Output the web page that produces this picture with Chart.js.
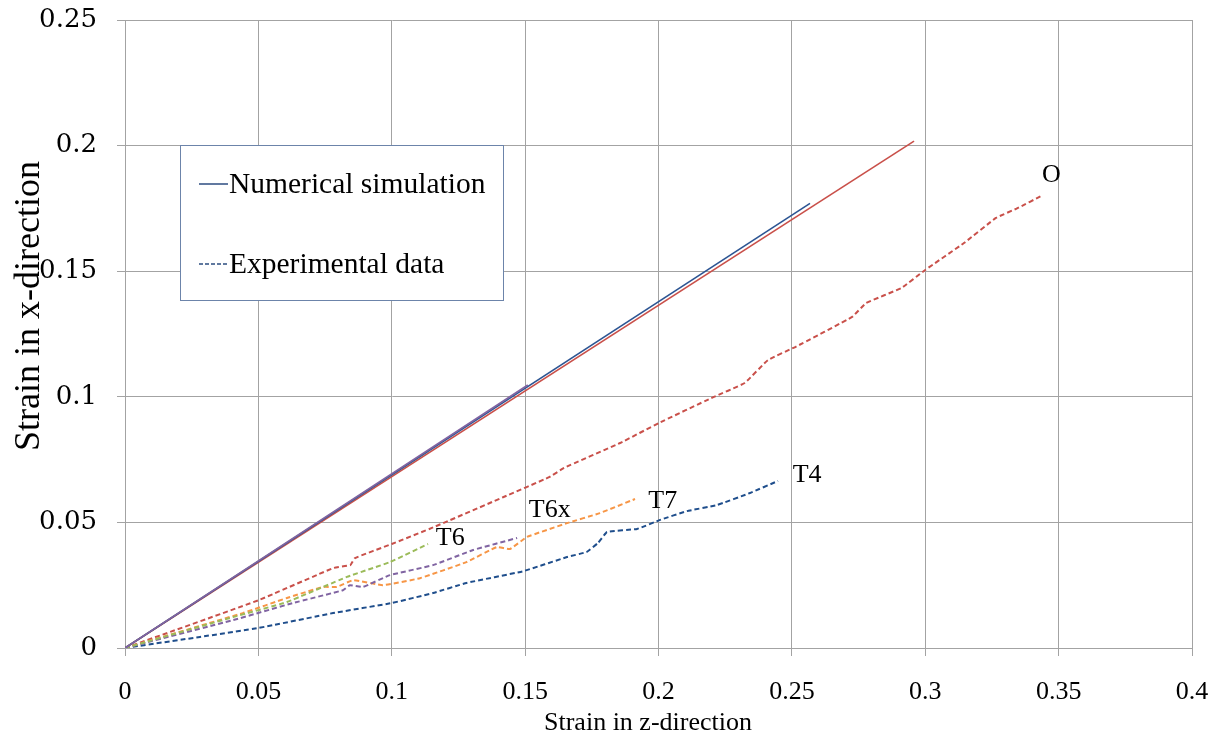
<!DOCTYPE html>
<html>
<head>
<meta charset="utf-8">
<script src="https://cdn.jsdelivr.net/npm/chart.js@4/dist/chart.umd.min.js"></script>
<style>
  html, body { margin: 0; padding: 0; background: #fff; }
  #wrap { width: 1226px; height: 742px; }
</style>
</head>
<body>
<div id="wrap"><canvas id="c" width="1226" height="742"></canvas></div>
<script>
// numerical simulation (straight lines)
const simO_z   = [0, 0.2958];
const simO_x   = [0, 0.2018];
const simT4_z  = [0, 0.2568];
const simT4_x  = [0, 0.1770];
const simT6x_z = [0, 0.1510];
const simT6x_x = [0, 0.1047];
const simT6_z  = [0, 0.1136];
const simT6_x  = [0, 0.0784];

// experimental data
const expO_z = [0, 0.050, 0.078, 0.0845, 0.0862, 0.100, 0.1155, 0.1417, 0.159, 0.1646, 0.1856, 0.2002, 0.2198, 0.2323, 0.241, 0.2516, 0.2726, 0.2778, 0.291, 0.300, 0.3145, 0.3265, 0.3344, 0.3441];
const expO_x = [0, 0.019, 0.0318, 0.0330, 0.0358, 0.0414, 0.048, 0.060, 0.068, 0.0717, 0.0816, 0.0896, 0.0995, 0.1055, 0.1146, 0.120, 0.1318, 0.1373, 0.1433, 0.1505, 0.1612, 0.1712, 0.175, 0.1803];

const expT4_z = [0, 0.0281, 0.0502, 0.078, 0.100, 0.1155, 0.128, 0.149, 0.1657, 0.173, 0.1773, 0.1807, 0.192, 0.2006, 0.2107, 0.2219, 0.2343, 0.2448];
const expT4_x = [0, 0.0044, 0.008, 0.0139, 0.0179, 0.0219, 0.0259, 0.0305, 0.0362, 0.0382, 0.0418, 0.0462, 0.0474, 0.051, 0.0545, 0.0569, 0.0617, 0.0665];

const expT7_z = [0, 0.0442, 0.0607, 0.0742, 0.0794, 0.0855, 0.0967, 0.1106, 0.128, 0.1394, 0.1443, 0.1507, 0.1657, 0.178, 0.1912];
const expT7_x = [0, 0.0139, 0.0199, 0.0243, 0.0243, 0.027, 0.025, 0.0278, 0.0342, 0.0402, 0.0394, 0.0442, 0.0497, 0.0537, 0.0593];

const expT6x_z = [0, 0.0405, 0.063, 0.0817, 0.0843, 0.0892, 0.0993, 0.1155, 0.1305, 0.147];
const expT6x_x = [0, 0.0111, 0.0179, 0.023, 0.025, 0.0243, 0.029, 0.033, 0.039, 0.0438];

const expT6_z = [0, 0.0405, 0.0607, 0.0832, 0.0993, 0.1136];
const expT6_x = [0, 0.0123, 0.0183, 0.0283, 0.0342, 0.0414];

// curve labels: [text, z, x] (placed at the end of each curve)
const curveLabels = [['O', 0.3438, 0.1855], ['T4', 0.2503, 0.0660], ['T7', 0.1962, 0.0558], ['T6x', 0.1514, 0.0520], ['T6', 0.1165, 0.0410]];

const legendItems = ['Numerical simulation', 'Experimental data'];
const xTitle = 'Strain in z-direction';
const yTitle = 'Strain in x-direction';

const pts = (zs, xs) => zs.map((z, i) => ({ x: z, y: xs[i] }));
const GRID = '#a3a3a3';
const SERIF = '"Liberation Serif", "Times New Roman", serif';

const solid = (zs, xs, color, order) => ({
  data: pts(zs, xs), borderColor: color, borderWidth: 1.6, pointRadius: 0,
  showLine: true, fill: false, tension: 0, order
});
const dashed = (zs, xs, color, order) => ({
  data: pts(zs, xs), borderColor: color, borderWidth: 2, borderDash: [5, 3], pointRadius: 0,
  showLine: true, fill: false, tension: 0.1, order
});

const decor = {
  id: 'decor',
  afterDraw(chart) {
    const ctx = chart.ctx;
    const xs = chart.scales.x, ys = chart.scales.y;
    ctx.save();
    // legend box
    ctx.fillStyle = '#fff';
    ctx.fillRect(180, 145, 323, 155);
    ctx.strokeStyle = '#6c84aa';
    ctx.lineWidth = 1;
    ctx.strokeRect(180.5, 145.5, 323, 155);
    ctx.strokeStyle = '#2c4d80';
    ctx.lineWidth = 1.5;
    ctx.beginPath(); ctx.moveTo(199, 184); ctx.lineTo(228, 184); ctx.stroke();
    ctx.setLineDash([4, 2]);
    ctx.beginPath(); ctx.moveTo(199, 264); ctx.lineTo(228, 264); ctx.stroke();
    ctx.setLineDash([]);
    ctx.fillStyle = '#000';
    ctx.font = '29.5px ' + SERIF;
    ctx.textBaseline = 'alphabetic';
    ctx.textAlign = 'left';
    ctx.fillText(legendItems[0], 229, 193);
    ctx.fillText(legendItems[1], 229, 273);

    // curve labels
    ctx.font = '26px ' + SERIF;
    curveLabels.forEach(([t, z, x]) => {
      ctx.fillText(t, xs.getPixelForValue(z), ys.getPixelForValue(x));
    });

    // axis titles
    ctx.font = '26px ' + SERIF;
    ctx.textAlign = 'center';
    ctx.fillText(xTitle, 648, 730);
    ctx.save();
    ctx.translate(39, 306);
    ctx.rotate(-Math.PI / 2);
    ctx.font = '36px ' + SERIF;
    ctx.fillText(yTitle, 0, 0);
    ctx.restore();
    ctx.restore();
  }
};

new Chart(document.getElementById('c'), {
  type: 'scatter',
  data: {
    datasets: [
      solid(simT6x_z, simT6x_x, '#8064a2', 0),
      solid(simT4_z, simT4_x, '#2c5593', 1),
      solid(simO_z, simO_x, '#c9504a', 2),
      solid(simT6_z, simT6_x, '#9bbb59', 3),
      dashed(expT6_z, expT6_x, '#9bbb59', 4),
      dashed(expT6x_z, expT6x_x, '#8064a2', 5),
      dashed(expT7_z, expT7_x, '#f79646', 6),
      dashed(expT4_z, expT4_x, '#1f4e8c', 7),
      dashed(expO_z, expO_x, '#c9504a', 8)
    ]
  },
  options: {
    responsive: false,
    animation: false,
    layout: { padding: { left: 0, top: 20, right: 34, bottom: 0 } },
    plugins: { legend: { display: false }, tooltip: { enabled: false } },
    scales: {
      x: {
        type: 'linear', min: 0, max: 0.4,
        afterFit: s => { s.height = 94; s.paddingLeft = 0; s.paddingRight = 0; },
        grid: { color: GRID, lineWidth: 1, tickLength: 8, tickColor: GRID },
        border: { color: GRID, width: 1 },
        ticks: { stepSize: 0.05, color: '#000', padding: 21, maxRotation: 0,
          font: { family: SERIF, size: 26 },
          callback: v => String(Math.round(v * 100) / 100) }
      },
      y: {
        type: 'linear', min: 0, max: 0.25,
        afterFit: s => { s.width = 125; s.paddingTop = 0; s.paddingBottom = 0; },
        grid: { color: GRID, lineWidth: 1, tickLength: 8, tickColor: GRID },
        border: { color: GRID, width: 1 },
        ticks: { stepSize: 0.05, color: '#000', padding: 20,
          font: { family: '"DejaVu Serif", serif', size: 26 },
          callback: v => String(Math.round(v * 100) / 100) }
      }
    }
  },
  plugins: [decor]
});
</script>
</body>
</html>
